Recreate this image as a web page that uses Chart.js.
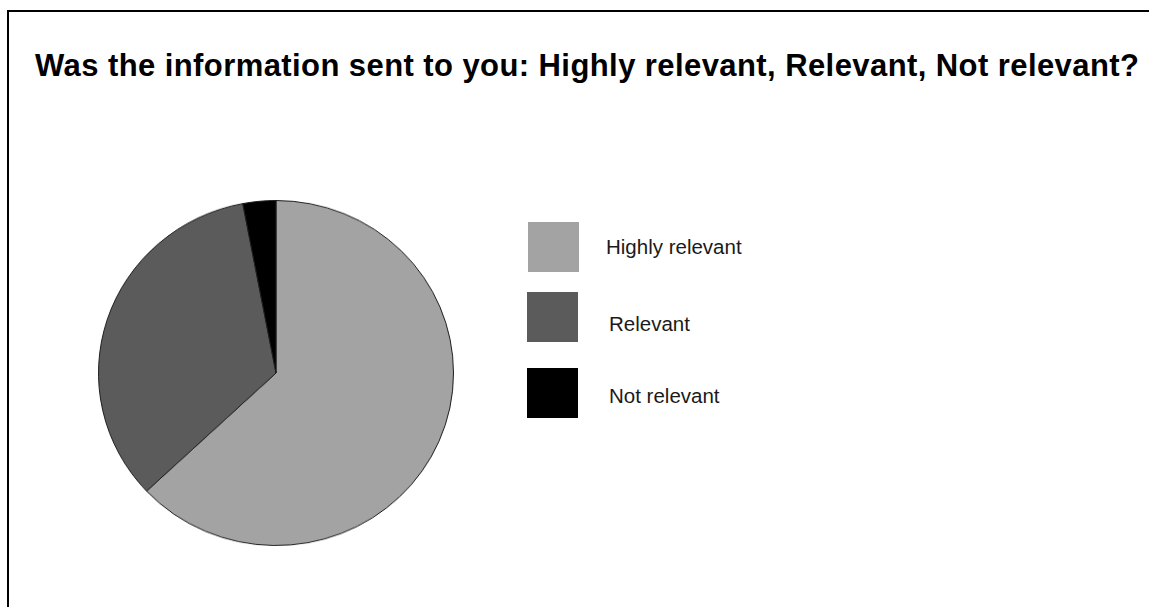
<!DOCTYPE html>
<html>
<head>
<meta charset="utf-8">
<script src="https://cdn.jsdelivr.net/npm/chart.js@4/dist/chart.umd.min.js"></script>
<style>
    html, body { margin: 0; padding: 0; background: #fff; overflow: hidden; }
    body { width: 1149px; height: 607px; position: relative; font-family: "Liberation Sans", Arial, sans-serif; }
    #frame { position: absolute; left: 7px; top: 10px; width: 1200px; height: 640px; border-top: 2px solid #000; border-left: 2px solid #000; }
    #title { position: absolute; left: 35px; top: 50px; margin: 0; font-size: 31px; line-height: 31px; letter-spacing: 0.42px; font-weight: bold; color: #000; white-space: nowrap; }
    #pie { position: absolute; left: 98px; top: 200px; }
    .legend-box { position: absolute; width: 51px; height: 50px; }
    .legend-text { position: absolute; font-size: 20.5px; line-height: 20.5px; color: #1a1a1a; white-space: nowrap; }
</style>
</head>
<body>
<div id="frame"></div>
<h1 id="title">Was the information sent to you: Highly relevant, Relevant, Not relevant?</h1>
<canvas id="pie" width="356" height="356" style="width:356px;height:346px;"></canvas>
<div id="legend"></div>

<script>
// --- DATA ---
const answerLabels = ['Highly relevant', 'Relevant', 'Not relevant'];
const answerShares = [63, 34, 3]; // percent of replies
const sliceColors = ['#a3a3a3', '#5b5b5b', '#000000'];

// legend rows: box top-left + text position
const legendRows = [
    { boxX: 528, boxY: 222, textX: 606, textY: 237 },
    { boxX: 527, boxY: 292, textX: 609, textY: 314 },
    { boxX: 527, boxY: 368, textX: 609, textY: 386 }
];

// --- PIE ---
const pieChart = new Chart(document.getElementById('pie'), {
    type: 'pie',
    data: {
        labels: answerLabels,
        datasets: [{
            data: answerShares,
            backgroundColor: sliceColors,
            borderColor: '#1e1e1e',
            borderWidth: 1
        }]
    },
    options: {
        responsive: false,
        animation: false,
        layout: { padding: 0 },
        plugins: {
            legend: { display: false },
            tooltip: { enabled: false }
        }
    }
});

// --- LEGEND (plain html next to the pie) ---
const legendEl = document.getElementById('legend');
answerLabels.forEach((label, i) => {
    const row = legendRows[i];
    legendEl.innerHTML += `
        <div class="legend-box" style="left:${row.boxX}px; top:${row.boxY}px; background:${sliceColors[i]};"></div>
        <div class="legend-text" style="left:${row.textX}px; top:${row.textY}px;">${label}</div>`;
});
</script>
</body>
</html>
